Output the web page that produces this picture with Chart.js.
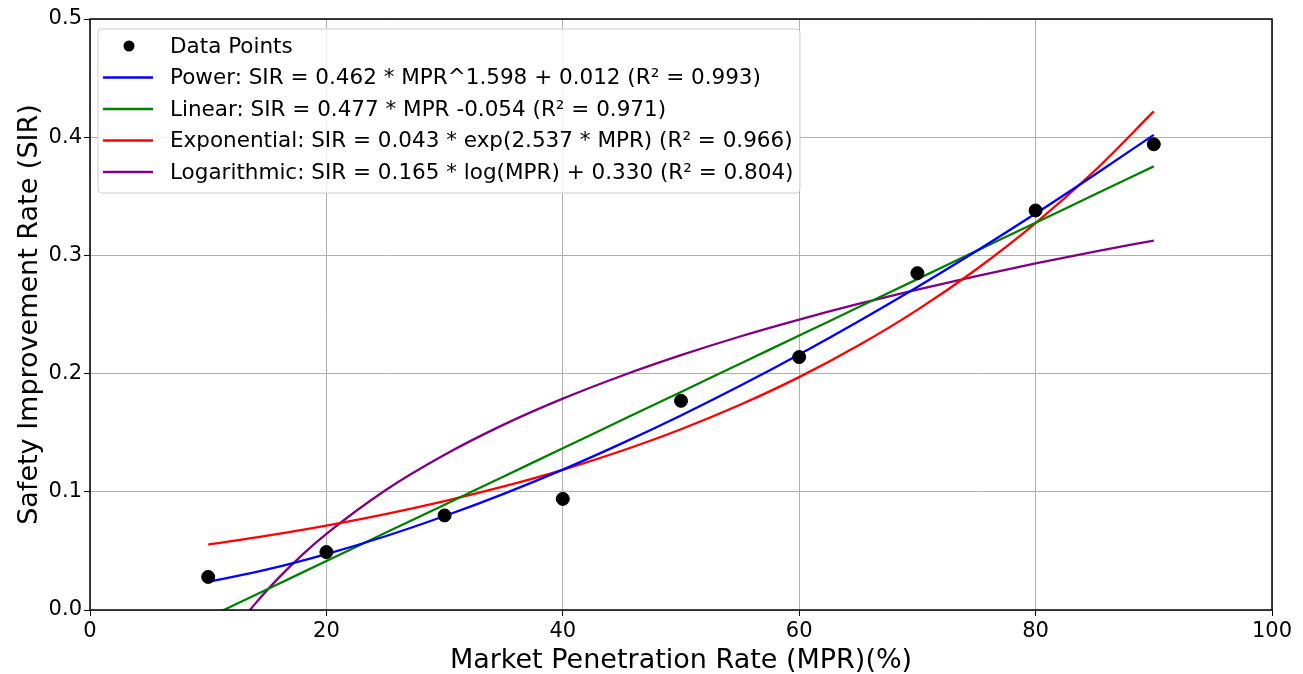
<!DOCTYPE html>
<html>
<head>
<meta charset="utf-8">
<script src="https://cdn.jsdelivr.net/npm/chart.js@4"></script>
<style>
  html, body { margin: 0; padding: 0; background: #fff; }
  #wrap { width: 1303px; height: 674px; }
</style>
</head>
<body>
<div id="wrap"><canvas id="fit-chart" width="1303" height="674"></canvas></div>
<script>
// Observed data points (MPR %, SIR)
const mprPoints = [10, 20, 30, 40, 50, 60, 70, 80, 90];
const sirPoints = [0.028, 0.049, 0.080, 0.094, 0.177, 0.214, 0.285, 0.338, 0.394];

// Fitted curves, values
const fitX = [10, 15, 20, 25, 30, 35, 40, 45, 50, 55, 60, 65, 70, 75, 80, 85, 90];
const powerY = [0.0237, 0.0343, 0.0473, 0.0624, 0.0795, 0.0983, 0.1188, 0.1410, 0.1646, 0.1897,
                0.2162, 0.2441, 0.2733, 0.3037, 0.3354, 0.3683, 0.4020];
const linearY = [-0.0063, 0.0176, 0.0414, 0.0653, 0.0891, 0.1130, 0.1368, 0.1607, 0.1845, 0.2084,
                 0.2322, 0.2561, 0.2799, 0.3038, 0.3276, 0.3515, 0.3753];
const expY = [0.0554, 0.0629, 0.0714, 0.0811, 0.0921, 0.1045, 0.1186, 0.1347, 0.1529, 0.1736,
              0.1970, 0.2237, 0.2539, 0.2883, 0.3273, 0.3716, 0.4218];
const logX = [10, 12, 14, 16, 18, 20, 25, 30, 35, 40, 45, 50, 55, 60, 65, 70, 75, 80, 85, 90];
const logY = [-0.0499, -0.0198, 0.0056, 0.0276, 0.0471, 0.0644, 0.1013, 0.1313, 0.1568, 0.1788,
              0.1982, 0.2156, 0.2314, 0.2457, 0.2589, 0.2711, 0.2825, 0.2932, 0.3032, 0.3126];

const seriesLabels = [
    'Data Points',
    'Power: SIR = 0.462 * MPR^1.598 + 0.012 (R² = 0.993)',
    'Linear: SIR = 0.477 * MPR -0.054 (R² = 0.971)',
    'Exponential: SIR = 0.043 * exp(2.537 * MPR) (R² = 0.966)',
    'Logarithmic: SIR = 0.165 * log(MPR) + 0.330 (R² = 0.804)'
];
const seriesColors = ['#000000', '#0000ff', '#008000', '#ff0000', '#800080'];

const xTicks = [0, 20, 40, 60, 80, 100];
const yTicks = [0.0, 0.1, 0.2, 0.3, 0.4, 0.5];

const FONT = "'DejaVu Sans', sans-serif";

function toXY(xs, ys) {
    return xs.map((x, i) => ({ x: x, y: ys[i] }));
}

function lineSet(label, color, xs, ys) {
    return {
        type: 'line',
        label: label,
        data: toXY(xs, ys),
        borderColor: color,
        backgroundColor: color,
        borderWidth: 2.3,
        pointRadius: 0,
        cubicInterpolationMode: 'monotone',
        showLine: true,
        order: 2
    };
}

// Frame around the plot area and the legend box in the upper left
const framePlugin = {
    id: 'frame',
    afterDraw(chart) {
        const { ctx, chartArea: a } = chart;
        ctx.save();
        ctx.strokeStyle = '#000';
        ctx.lineWidth = 1.5;
        ctx.strokeRect(a.left, a.top, a.right - a.left, a.bottom - a.top);

        // legend
        const bx = a.left + 8, by = a.top + 10, bw = 702, bh = 164;
        ctx.fillStyle = 'rgba(255,255,255,0.85)';
        ctx.strokeStyle = '#cccccc';
        ctx.lineWidth = 1;
        ctx.beginPath();
        ctx.roundRect(bx, by, bw, bh, 4);
        ctx.fill();
        ctx.stroke();

        ctx.font = '21.5px ' + FONT;
        ctx.textBaseline = 'middle';
        ctx.textAlign = 'left';
        chart.data.datasets.forEach((ds, i) => {
            const y = by + 17 + i * 31.5;
            if (i === 0) {
                ctx.fillStyle = ds.backgroundColor;
                ctx.beginPath();
                ctx.arc(bx + 31, y, 5.5, 0, Math.PI * 2);
                ctx.fill();
            } else {
                ctx.strokeStyle = ds.borderColor;
                ctx.lineWidth = 2.3;
                ctx.beginPath();
                ctx.moveTo(bx + 5, y);
                ctx.lineTo(bx + 55, y);
                ctx.stroke();
            }
            ctx.fillStyle = '#000';
            ctx.fillText(ds.label, bx + 72, y + 1);
        });
        ctx.restore();
    }
};

const ctx = document.getElementById('fit-chart').getContext('2d');
new Chart(ctx, {
    type: 'scatter',
    data: {
        datasets: [
            {
                label: seriesLabels[0],
                data: toXY(mprPoints, sirPoints),
                backgroundColor: seriesColors[0],
                borderColor: seriesColors[0],
                pointRadius: 6.5,
                pointHoverRadius: 6.5,
                showLine: false,
                order: 1
            },
            lineSet(seriesLabels[1], seriesColors[1], fitX, powerY),
            lineSet(seriesLabels[2], seriesColors[2], fitX, linearY),
            lineSet(seriesLabels[3], seriesColors[3], fitX, expY),
            lineSet(seriesLabels[4], seriesColors[4], logX, logY)
        ]
    },
    options: {
        responsive: false,
        animation: false,
        layout: { padding: { top: 19, right: 31, left: 0, bottom: 0 } },
        plugins: {
            legend: { display: false },
            tooltip: { enabled: false }
        },
        scales: {
            x: {
                type: 'linear',
                min: 0,
                max: 100,
                afterBuildTicks: (scale) => { scale.ticks = xTicks.map(v => ({ value: v })); },
                afterFit: (scale) => { scale.height = 64; },
                grid: { color: '#b0b0b0', lineWidth: 1, tickColor: '#000', tickLength: 6 },
                border: { display: false },
                ticks: { color: '#000', font: { family: FONT, size: 21 }, padding: 3, maxRotation: 0 },
                title: {
                    display: true,
                    text: 'Market Penetration Rate (MPR)(%)',
                    color: '#000',
                    font: { family: FONT, size: 27, lineHeight: 1.0 },
                    padding: { top: 0, bottom: 0 }
                }
            },
            y: {
                type: 'linear',
                min: 0,
                max: 0.5,
                afterBuildTicks: (scale) => { scale.ticks = yTicks.map(v => ({ value: v })); },
                afterFit: (scale) => { scale.width = 90; },
                grid: { color: '#b0b0b0', lineWidth: 1, tickColor: '#000', tickLength: 6 },
                border: { display: false },
                ticks: {
                    color: '#000',
                    font: { family: FONT, size: 21 },
                    padding: 2,
                    callback: (v) => v.toFixed(1)
                },
                title: {
                    display: true,
                    text: 'Safety Improvement Rate (SIR)',
                    color: '#000',
                    font: { family: FONT, size: 27, lineHeight: 1.0 },
                    padding: { top: 16, bottom: 0 }
                }
            }
        }
    },
    plugins: [framePlugin]
});
</script>
</body>
</html>
